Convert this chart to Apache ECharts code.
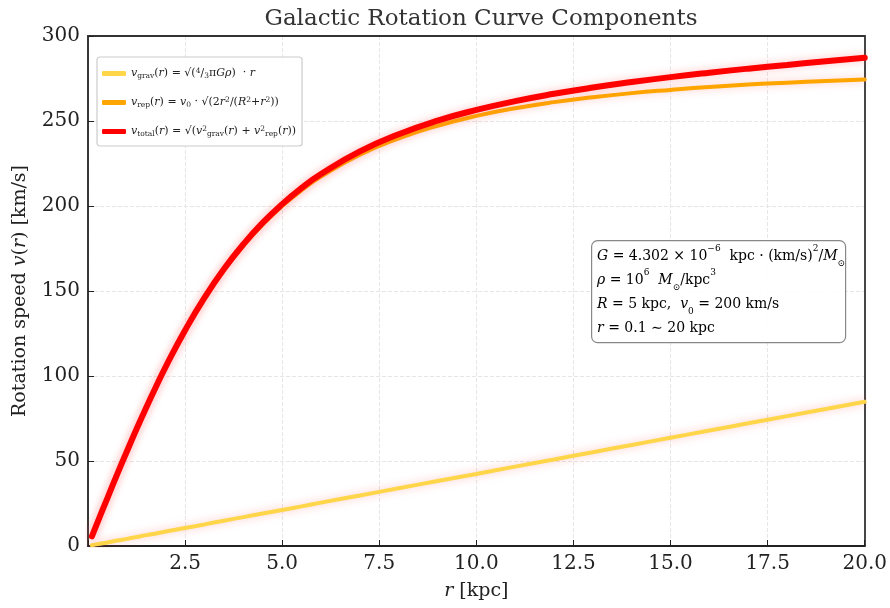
<!DOCTYPE html>
<html>
<head>
<meta charset="utf-8">
<script src="https://cdn.jsdelivr.net/npm/echarts@6/dist/echarts.min.js"></script>
<style>
  html, body { margin: 0; padding: 0; background: #fff; }
  #chart { width: 890px; height: 608px; }
</style>
</head>
<body>
<div id="chart"></div>
<script>
// radius [kpc] and speeds [km/s]
const radius = [0.1, 0.25, 0.5, 0.75, 1, 1.25, 1.5, 1.75, 2, 2.5, 3, 3.5, 4, 4.5, 5, 5.5, 6, 7, 8, 9, 10, 11, 12, 13, 14, 15, 16, 17, 18, 19, 20]
const vGrav = [0.4, 1.1, 2.1, 3.2, 4.2, 5.3, 6.4, 7.4, 8.5, 10.6, 12.7, 14.9, 17.0, 19.1, 21.2, 23.3, 25.5, 29.7, 34.0, 38.2, 42.4, 46.7, 50.9, 55.2, 59.4, 63.7, 67.9, 72.2, 76.4, 80.6, 84.9]
const vRep = [5.7, 14.1, 28.1, 42.0, 55.5, 68.6, 81.3, 93.4, 105.0, 126.5, 145.5, 162.2, 176.7, 189.2, 200.0, 209.3, 217.3, 230.2, 239.8, 247.2, 253.0, 257.5, 261.1, 264.0, 266.4, 268.3, 270.0, 271.4, 272.5, 273.5, 274.4]
const vTotal = [5.7, 14.2, 28.2, 42.1, 55.6, 68.8, 81.5, 93.7, 105.4, 126.9, 146.1, 162.9, 177.5, 190.2, 201.1, 210.6, 218.8, 232.1, 242.2, 250.2, 256.5, 261.7, 266.0, 269.7, 272.9, 275.8, 278.4, 280.8, 283.0, 285.2, 287.2]

const xTicks = [2.5, 5.0, 7.5, 10.0, 12.5, 15.0, 17.5, 20.0]

const serif = 'DejaVu Serif'
const pairs = ys => radius.map((r, i) => [r, ys[i]])

// 数学公式的富文本样式
const mathRich = {
  i: { fontFamily: serif, fontStyle: 'italic', fontSize: 11, color: '#222' },
  s: { fontFamily: serif, fontSize: 7.5, color: '#222', verticalAlign: 'bottom', padding: [5, 0, 0, 0] },
  n: { fontFamily: serif, fontSize: 11, color: '#222' },
  sup: { fontFamily: serif, fontSize: 7.5, color: '#222', verticalAlign: 'top', padding: [0, 0, 5, 0] }
}

const legendText = {
  grav: '{i|v}{s|grav}{n|(}{i|r}{n|) = √(}{sup|4}{n|/}{s|3}{n|π}{i|Gρ}{n|)  · }{i|r}',
  rep: '{i|v}{s|rep}{n|(}{i|r}{n|) = }{i|v}{s|0}{n| · √(2}{i|r}{sup|2}{n|/(}{i|R}{sup|2}{n|+}{i|r}{sup|2}{n|))}',
  total: '{i|v}{s|total}{n|(}{i|r}{n|) = √(}{i|v}{sup|2}{s|grav}{n|(}{i|r}{n|) + }{i|v}{sup|2}{s|rep}{n|(}{i|r}{n|))}'
}

const infoRich = {
  i: { fontFamily: serif, fontStyle: 'italic', fontSize: 14, color: '#222', lineHeight: 24 },
  n: { fontFamily: serif, fontSize: 14, color: '#222', lineHeight: 24 },
  sup: { fontFamily: serif, fontSize: 9, color: '#222', verticalAlign: 'top', lineHeight: 24, padding: [0, 0, 4, 0] },
  s: { fontFamily: serif, fontSize: 9, color: '#222', verticalAlign: 'bottom', lineHeight: 24, padding: [2, 0, 0, 0] }
}
const infoText = [
  '{i|G}{n| = 4.302 × 10}{sup|−6}{n|  kpc · (km/s)}{sup|2}{n|/}{i|M}{s|⊙}',
  '{i|ρ}{n| = 10}{sup|6}{n|  }{i|M}{s|⊙}{n|/kpc}{sup|3}',
  '{i|R}{n| = 5 kpc,  }{i|v}{s|0}{n| = 200 km/s}',
  '{i|r}{n| = 0.1 ∼ 20 kpc}'
].join('\n')

const chart = echarts.init(document.getElementById('chart'))

const lineSeries = (name, ys, color, width, z) => ({
  name,
  type: 'line',
  data: pairs(ys),
  smooth: true,
  showSymbol: false,
  z,
  lineStyle: {
    color,
    width,
    cap: 'round',
    shadowColor: 'rgba(255, 90, 90, 0.35)',
    shadowBlur: 8
  },
  itemStyle: { color }
})

// 只画边框用的辅助轴（上、右）
const frameAxis = {
  type: 'value',
  axisLine: { show: true, onZero: false, lineStyle: { color: '#333', width: 1.8 } },
  axisTick: { show: false },
  axisLabel: { show: false },
  splitLine: { show: false }
}

chart.setOption({
  animation: false,
  title: {
    text: 'Galactic Rotation Curve Components',
    left: 476,
    textAlign: 'center',
    top: 3,
    textStyle: { fontFamily: serif, fontWeight: 'normal', fontSize: 23, color: '#333' }
  },
  grid: { left: 88, right: 25, top: 36, bottom: 62 },
  legend: {
    orient: 'vertical',
    left: 97,
    top: 57,
    itemWidth: 24,
    itemHeight: 5,
    itemGap: 16,
    icon: 'roundRect',
    padding: [10, 6, 8, 5],
    borderColor: '#ccc',
    borderWidth: 1.2,
    borderRadius: 3,
    backgroundColor: 'rgba(255,255,255,0.9)',
    textStyle: { rich: mathRich },
    formatter: n => legendText[n],
    data: ['grav', 'rep', 'total']
  },
  xAxis: [
    {
      type: 'value',
      min: 0,
      max: 20,
      interval: 2.5,
      name: '{i|r} [kpc]',
      nameLocation: 'middle',
      nameGap: 36,
      nameTextStyle: {
        fontFamily: serif, fontSize: 19, color: '#222',
        rich: { i: { fontFamily: serif, fontStyle: 'italic', fontSize: 19, color: '#222' } }
      },
      axisLine: { show: true, onZero: false, lineStyle: { color: '#222', width: 1.8 } },
      axisTick: { show: true, inside: true, length: 6, lineStyle: { color: '#222' } },
      axisLabel: {
        fontFamily: serif, fontSize: 20, color: '#222', margin: 8,
        formatter: v => xTicks.includes(v) ? v.toFixed(1) : ''
      },
      splitLine: { show: true, lineStyle: { color: '#e6e6e6', type: 'dashed' } }
    },
    Object.assign({ position: 'top', min: 0, max: 20 }, frameAxis)
  ],
  yAxis: [
    {
      type: 'value',
      min: 0,
      max: 300,
      interval: 50,
      name: 'Rotation speed {i|v}({i|r}) [km/s]',
      nameLocation: 'middle',
      nameGap: 58,
      nameTextStyle: {
        fontFamily: serif, fontSize: 19, color: '#222',
        rich: { i: { fontFamily: serif, fontStyle: 'italic', fontSize: 19, color: '#222' } }
      },
      axisLine: { show: true, lineStyle: { color: '#222', width: 1.8 } },
      axisTick: { show: true, inside: true, length: 6, lineStyle: { color: '#222' } },
      axisLabel: { fontFamily: serif, fontSize: 20, color: '#222', margin: 8 },
      splitLine: { show: true, lineStyle: { color: '#e6e6e6', type: 'dashed' } }
    },
    Object.assign({ position: 'right', min: 0, max: 300 }, frameAxis)
  ],
  series: [
    lineSeries('grav', vGrav, '#FFD54A', 4, 2),
    lineSeries('rep', vRep, '#FFA500', 4, 3),
    lineSeries('total', vTotal, '#FF0000', 6, 4)
  ],
  graphic: [
    {
      type: 'rect',
      left: 591,
      top: 240,
      shape: { width: 254, height: 102, r: 6 },
      style: { fill: 'rgba(255,255,255,0.9)', stroke: '#888', lineWidth: 1.2 },
      z: 10
    },
    {
      type: 'text',
      left: 597,
      top: 244,
      style: { text: infoText, rich: infoRich },
      z: 11
    }
  ]
})
</script>
</body>
</html>
